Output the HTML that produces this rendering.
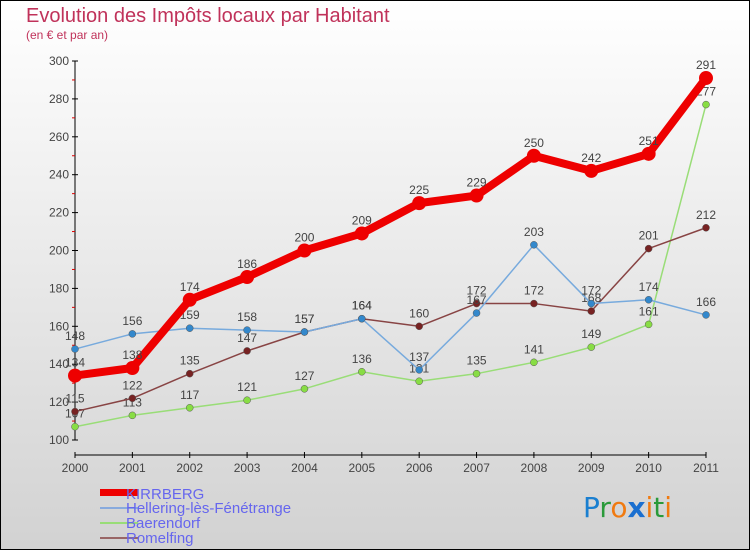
<!DOCTYPE html>
<html><head><meta charset="utf-8"><style>
body{margin:0}
#c{width:750px;height:550px;position:relative;background:linear-gradient(#ffffff,#d2d2d2);box-sizing:border-box;border:1px solid #000;font-family:"Liberation Sans",sans-serif;overflow:hidden}
</style></head><body>
<div id="c">
<svg id="s" width="750" height="550" style="position:absolute;left:-1px;top:-1px">
<text x="26" y="22" font-size="20" fill="#c0325a">Evolution des Impôts locaux par Habitant</text>
<text x="26" y="39" font-size="12" fill="#c0325a">(en € et par an)</text>
<g id="g"></g>
<g font-size="15" fill="#6666ee">
<rect x="100" y="489" width="38" height="7" fill="#ee0000"/>
<text x="126" y="499">KIRRBERG</text>
<rect x="100" y="507" width="38" height="2" fill="#88aadd"/>
<text x="126" y="513">Hellering-lès-Fénétrange</text>
<rect x="100" y="522" width="38" height="2" fill="#99dd77"/>
<text x="126" y="528">Baerendorf</text>
<rect x="100" y="537" width="38" height="2" fill="#996666"/>
<text x="126" y="543">Romelfing</text>
</g>
<text x="583" y="517" font-size="28" font-family="'DejaVu Sans',sans-serif"><tspan fill="#1a7fd0">P</tspan><tspan fill="#2a9a3a">r</tspan><tspan fill="#f07a10">o</tspan><tspan fill="#1a6fd0" font-weight="bold">x</tspan><tspan fill="#f07a10">i</tspan><tspan fill="#2a9a3a">t</tspan><tspan fill="#f07a10">i</tspan></text>
</svg>
</div>
<script>
const years=["2000","2001","2002","2003","2004","2005","2006","2007","2008","2009","2010","2011"];
const yTicks=[100,120,140,160,180,200,220,240,260,280,300];
const kirrberg=[134,138,174,186,200,209,225,229,250,242,251,291];
const hellering=[148,156,159,158,157,164,137,167,203,172,174,166];
const baerendorf=[107,113,117,121,127,136,131,135,141,149,161,277];
const romelfing=[115,122,135,147,157,164,160,172,172,168,201,212];
const NS="http://www.w3.org/2000/svg";
const g=document.getElementById('g');
const X=i=>75+i*(706-75)/11;
const Y=v=>440-(v-100)*(440-61)/200;
function el(t,a,p){const e=document.createElementNS(NS,t);for(const k in a)e.setAttribute(k,a[k]);(p||g).appendChild(e);return e;}
// axes
let ax=el('line',{x1:75,y1:Y(100),x2:75,y2:Y(300),stroke:'#000'});


let xx=el('line',{x1:75,y1:455,x2:706,y2:455,stroke:'#000'});


yTicks.forEach((v,i)=>{
 el('line',{x1:72,x2:78,y1:Y(v),y2:Y(v),stroke:'#000'});
 if(i<yTicks.length-1)el('line',{x1:72,x2:75,y1:Y(v+10),y2:Y(v+10),stroke:'#d00'});
 const t=el('text',{x:69,y:Y(v)+4,'font-size':12,fill:'#444','text-anchor':'end'});
 t.textContent=v;
 
 
});
years.forEach((y,i)=>{
 el('line',{x1:X(i),x2:X(i),y1:452,y2:458,stroke:'#000'});
 const t=el('text',{x:X(i),y:472,'font-size':12,fill:'#444','text-anchor':'middle'});
 t.textContent=y;
 
 
});
function series(name,data,color,w,r,dot,labels){
 const gg=el('g',{});
 
 
 el('polyline',{points:data.map((v,i)=>X(i)+','+Y(v)).join(' '),fill:'none',stroke:color,'stroke-width':w,'stroke-linejoin':'round'},gg);
 data.forEach((v,i)=>{
  const c=el('circle',{cx:X(i),cy:Y(v),r:r,fill:dot,stroke:w>3?'none':'#555','stroke-width':0.5},gg);
  
  
  if(labels){const t=el('text',{x:X(i),y:Y(v)-9,'font-size':12,fill:'#444','text-anchor':'middle'},gg);t.textContent=v;
  
  }
 });
}
series('baerendorf',baerendorf,'#99dd77',1.5,3.5,'#88dd44',true);
series('romelfing',romelfing,'#884444',1.5,3.5,'#772222',true);
series('hellering',hellering,'#77aadd',1.5,3.5,'#3388cc',true);
series('kirrberg',kirrberg,'#ee0000',8,7,'#ee0000',true);
</script>
</body></html>
